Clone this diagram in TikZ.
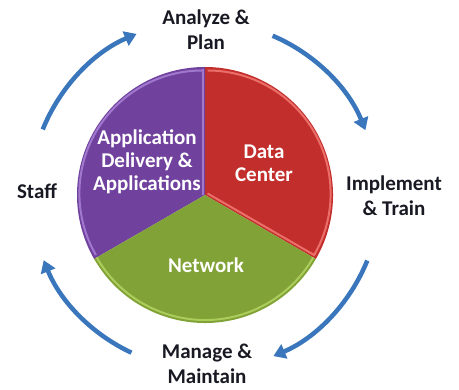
\documentclass[tikz,border=0pt]{standalone}
\usepackage{fontspec}
\setmainfont{Carlito}
\usetikzlibrary{arrows.meta,calc}
\definecolor{purp}{RGB}{112,66,158}
\definecolor{purpL}{RGB}{160,120,205}
\definecolor{redc}{RGB}{194,46,44}
\definecolor{redL}{RGB}{236,110,105}
\definecolor{grn}{RGB}{128,162,54}
\definecolor{grnL}{RGB}{172,204,92}
\definecolor{arr}{RGB}{58,118,188}
\definecolor{txt}{RGB}{25,25,35}
\tikzset{
  outer/.style={font=\fontsize{21}{25}\selectfont\bfseries, text=txt, align=center, inner sep=0pt},
  inner/.style={font=\fontsize{21}{23}\selectfont\bfseries, text=white, align=center},
  cyc/.style={draw=arr, line width=4.5pt, -{Triangle[width=15pt,length=12pt]}},
  bevel/.style={line width=2pt}
}
\begin{document}
\begin{tikzpicture}[x=1pt,y=1pt]
\useasboundingbox (0,0) rectangle (459,390);
\coordinate (c) at (205,195);
% sectors
\fill[redc] (c) -- ++(-30:128) arc[start angle=-30,end angle=90,radius=128] -- cycle;
\fill[purp] (c) -- ++(90:128) arc[start angle=90,end angle=210,radius=128] -- cycle;
\fill[grn] (c) -- ++(210:128) arc[start angle=210,end angle=330,radius=128] -- cycle;
% bevels
\draw[redL,bevel] ($(c)+(30:3)$) -- ++(-30:123) arc[start angle=-30,end angle=90,radius=123];
\draw[purpL,bevel] ($(c)+(150:3)$) ++(90:123) arc[start angle=90,end angle=210,radius=123];
\draw[purpL,bevel] (c) ++(-2.5,0) -- ++(0,126);
\draw[grnL,bevel] (c) ++(210:125) arc[start angle=210,end angle=330,radius=125];
% labels
\node[inner] (dc) at (264,227) {Data\\Center};
\node[inner] (ad) at (147,228) {Application\\Delivery \&\\Applications};
\node[inner] (nw) at (206,125) {Network};
\node[outer] (ap) at (206,360) {Analyze \&\\Plan};
\node[outer] (st) at (37,199) {Staff};
\node[outer] (it) at (394,194) {Implement\\\& Train};
\node[outer] (mm) at (207,26) {Manage \&\\Maintain};
% cycle arrows
\coordinate (a1s) at ($(c)+(158:175)$);
\coordinate (a2s) at ($(c)+(67:173)$);
\coordinate (a3s) at ($(c)+(-22:175)$);
\coordinate (a4s) at ($(c)+(-115:174)$);
\draw[cyc] (a1s) arc[start angle=158,end angle=113,radius=175];
\draw[cyc] (a2s) arc[start angle=67,end angle=22,radius=173];
\draw[cyc] (a3s) arc[start angle=-22,end angle=-67,radius=175];
\draw[cyc] (a4s) arc[start angle=-115,end angle=-158,radius=174];
\end{tikzpicture}
\end{document}
